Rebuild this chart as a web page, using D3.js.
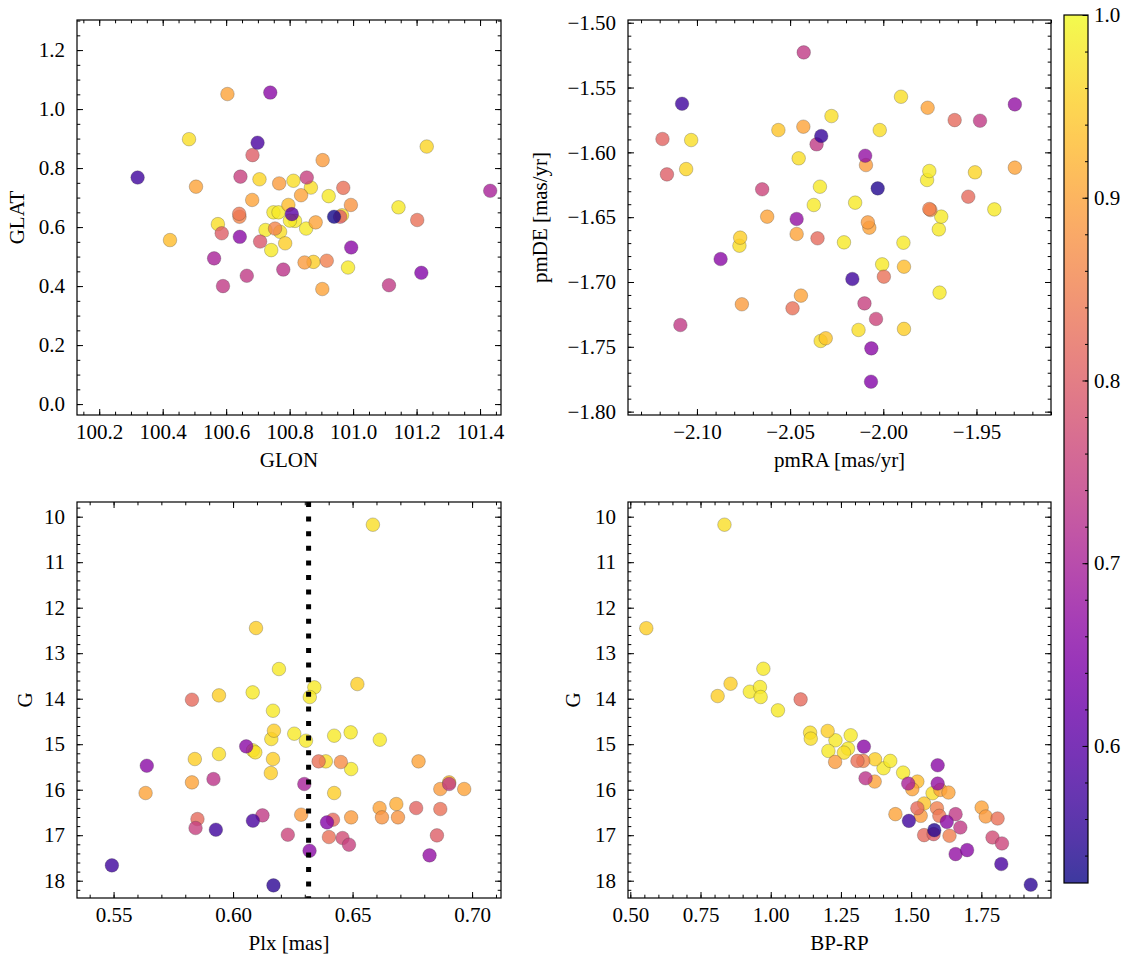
<!DOCTYPE html>
<html><head><meta charset="utf-8">
<script src="https://cdn.jsdelivr.net/npm/d3@7"></script>
<style>body{margin:0;background:#fff} svg text{font-family:"Liberation Serif","DejaVu Serif",serif !important;}</style>
</head><body><svg id="c" width="1133" height="965"></svg>
<script>
// ---- Panel 1: GLON / GLAT ----
const glon=[100.321,100.423,100.483,100.505,100.562,100.574,100.586,100.590,100.604,100.641,100.642,100.643,100.645,100.665,100.683,100.682,100.699,100.705,100.707,100.724,100.739,100.742,100.749,100.754,100.765,100.770,100.767,100.780,100.786,100.796,100.807,100.812,100.817,100.801,100.836,100.847,100.852,100.854,100.867,100.875,100.882,100.903,100.904,100.917,100.923,100.959,100.965,100.940,100.969,100.984,100.993,100.994,101.113,101.143,101.202,101.215,101.232,101.432];
const glat=[0.768,0.556,0.898,0.737,0.494,0.610,0.579,0.400,1.051,0.645,0.635,0.567,0.771,0.435,0.844,0.692,0.886,0.762,0.551,0.590,1.056,0.522,0.650,0.595,0.650,0.584,0.748,0.456,0.545,0.675,0.644,0.757,0.621,0.622,0.708,0.480,0.595,0.768,0.734,0.482,0.616,0.390,0.827,0.486,0.705,0.635,0.640,0.635,0.733,0.463,0.675,0.531,0.403,0.667,0.624,0.445,0.873,0.723];
const probA=[0.57,0.93,0.97,0.90,0.70,0.97,0.80,0.74,0.90,0.84,0.86,0.66,0.75,0.74,0.80,0.90,0.58,0.96,0.79,0.98,0.66,0.98,0.98,0.86,0.98,0.97,0.89,0.73,0.95,0.93,0.60,0.97,0.98,0.98,0.90,0.89,0.98,0.75,0.97,0.95,0.90,0.90,0.89,0.85,0.98,0.80,0.97,0.53,0.83,0.98,0.88,0.66,0.74,0.98,0.83,0.65,0.96,0.70];

// ---- Panel 2: pmRA / pmDE ----
const pmra=[-2.0427,-2.108,-2.1185,-2.1031,-2.1161,-2.1058,-2.1089,-2.0873,-2.0768,-2.0772,-2.0759,-2.065,-2.0623,-2.0563,-2.0487,-2.0465,-2.0465,-2.0454,-2.0442,-2.0429,-2.0373,-2.0358,-2.0353,-2.034,-2.0333,-2.0336,-2.0309,-2.0278,-2.0211,-2.0166,-2.0151,-2.0133,-2.0101,-2.0097,-2.0093,-2.0083,-2.0075,-2.0064,-2.0066,-2.0039,-2.003,-2.0019,-2.0006,-1.9997,-1.9905,-1.9892,-1.9889,-1.9889,-1.9762,-1.9765,-1.9753,-1.9753,-1.9747,-1.9702,-1.9689,-1.9698,-1.9617,-1.9544,-1.9508,-1.9481,-1.9404,-1.9294,-1.9294];
const pmde=[-1.5229,-1.5625,-1.5897,-1.5905,-1.617,-1.6129,-1.7332,-1.6823,-1.6658,-1.672,-1.7172,-1.6285,-1.6496,-1.5828,-1.7203,-1.663,-1.6514,-1.6046,-1.7105,-1.5802,-1.6406,-1.5938,-1.6663,-1.6265,-1.5874,-1.7455,-1.7434,-1.572,-1.6694,-1.6977,-1.6388,-1.737,-1.7165,-1.6026,-1.6098,-1.654,-1.6581,-1.7512,-1.7769,-1.7285,-1.6278,-1.5828,-1.6864,-1.6959,-1.5571,-1.6697,-1.6882,-1.7362,-1.5656,-1.6213,-1.6144,-1.6437,-1.6445,-1.6594,-1.6496,-1.7082,-1.5751,-1.6342,-1.6154,-1.5756,-1.644,-1.563,-1.6118];
const probB=[0.74,0.57,0.81,0.97,0.80,0.96,0.74,0.66,0.95,0.97,0.89,0.76,0.90,0.94,0.83,0.90,0.67,0.97,0.90,0.90,0.98,0.74,0.82,0.98,0.56,0.97,0.94,0.97,0.98,0.57,0.98,0.97,0.75,0.67,0.89,0.89,0.90,0.66,0.65,0.76,0.54,0.97,0.98,0.83,0.97,0.98,0.93,0.95,0.90,0.98,0.98,0.85,0.87,0.98,0.98,0.98,0.82,0.82,0.96,0.74,0.98,0.67,0.90];

// ---- Panel 3: Plx / G ----
const plx=[0.6585,0.6096,0.6192,0.634,0.652,0.5828,0.5941,0.6082,0.6321,0.6167,0.6171,0.616,0.6256,0.6305,0.6423,0.6492,0.6614,0.6055,0.6083,0.6093,0.5639,0.584,0.5941,0.6167,0.6158,0.6358,0.6388,0.6451,0.6494,0.6776,0.5918,0.5828,0.5634,0.6298,0.6423,0.6867,0.6904,0.6904,0.6967,0.6613,0.6683,0.6623,0.669,0.6766,0.6867,0.5851,0.5843,0.5928,0.6083,0.6123,0.6285,0.6393,0.6418,0.6494,0.6229,0.6401,0.6458,0.6485,0.6853,0.632,0.6822,0.5493,0.6169];
const gPlx=[10.176,12.447,13.348,13.751,13.678,14.022,13.927,13.861,13.963,14.264,14.703,14.886,14.769,14.923,14.813,14.74,14.901,15.048,15.136,15.179,15.473,15.326,15.216,15.326,15.634,15.377,15.377,15.392,15.546,15.377,15.766,15.839,16.073,15.875,16.073,15.985,15.839,15.875,15.985,16.403,16.315,16.608,16.608,16.403,16.425,16.645,16.842,16.879,16.681,16.564,16.549,16.718,16.659,16.608,16.989,17.04,17.062,17.209,17.004,17.341,17.443,17.663,18.103];
const probC=[0.97,0.95,0.98,0.98,0.95,0.82,0.95,0.98,0.98,0.98,0.95,0.97,0.98,0.98,0.98,0.98,0.98,0.66,0.98,0.97,0.66,0.95,0.97,0.95,0.95,0.83,0.97,0.87,0.98,0.90,0.73,0.90,0.90,0.70,0.95,0.89,0.93,0.74,0.90,0.90,0.91,0.88,0.88,0.81,0.83,0.82,0.75,0.57,0.58,0.74,0.89,0.65,0.82,0.89,0.76,0.83,0.77,0.75,0.80,0.66,0.67,0.57,0.55];
const plxCut=0.6316;

// ---- Panel 4: BP-RP / G ----
const bprp=[0.8353,0.5569,0.9738,0.857,0.811,0.9256,0.9618,0.9642,1.0257,1.1064,1.1402,1.1426,1.2028,1.2305,1.2848,1.2053,1.2607,1.2752,1.2293,1.3317,1.3088,1.3293,1.3715,1.4016,1.4257,1.3377,1.3702,1.4715,1.4896,1.5221,1.504,1.5944,1.5944,1.5763,1.6041,1.633,1.5462,1.5221,1.5341,1.444,1.592,1.6004,1.492,1.6269,1.6583,1.6751,1.5824,1.5462,1.58,1.6366,1.7511,1.7656,1.8078,1.7897,1.8234,1.6583,1.6993,1.821,1.9259];
const gCol=[10.176,12.45,13.342,13.671,13.942,13.846,13.744,13.963,14.256,14.015,14.746,14.878,14.709,14.914,14.804,15.148,15.185,15.097,15.389,15.053,15.367,15.367,15.331,15.528,15.367,15.748,15.821,15.624,15.865,15.821,15.989,15.463,15.865,16.077,16.004,16.062,16.303,16.406,16.574,16.537,16.406,16.574,16.684,16.706,16.537,16.83,16.889,16.998,16.976,17.013,16.391,16.589,16.633,17.049,17.181,17.415,17.327,17.634,18.088];
const probD=[0.97,0.95,0.98,0.95,0.95,0.98,0.98,0.98,0.98,0.82,0.97,0.97,0.95,0.98,0.98,0.98,0.97,0.98,0.89,0.66,0.83,0.86,0.95,0.98,0.98,0.73,0.90,0.98,0.70,0.93,0.90,0.66,0.67,0.97,0.90,0.90,0.94,0.82,0.89,0.90,0.85,0.84,0.57,0.66,0.74,0.74,0.54,0.82,0.80,0.85,0.90,0.89,0.83,0.77,0.76,0.67,0.66,0.58,0.55];

// ---- tick definitions ----
const ticksGlon=[100.2,100.4,100.6,100.8,101.0,101.2,101.4];
const ticksGlat=[0.0,0.2,0.4,0.6,0.8,1.0,1.2];
const ticksPmra=[-2.10,-2.05,-2.00,-1.95];
const ticksPmde=[-1.80,-1.75,-1.70,-1.65,-1.60,-1.55,-1.50];
const ticksPlx=[0.55,0.60,0.65,0.70];
const ticksG=[10,11,12,13,14,15,16,17,18];
const ticksBprp=[0.50,0.75,1.00,1.25,1.50,1.75];
const ticksCbar=[0.6,0.7,0.8,0.9,1.0];

const FONT='"Liberation Serif","DejaVu Serif",serif';
const FS=21;
const vmin=0.525, vmax=1.0;
const color=d3.scaleSequential(d3.interpolatePlasma).domain([vmin,vmax]);
const svg=d3.select('#c').style('font-family',FONT);

function range(a,b,step){const r=[];for(let v=a;v<=b+1e-9;v+=step)r.push(+v.toFixed(6));return r;}

function panel(o){
  const g=svg.append('g');
  const x=d3.scaleLinear().domain(o.xd).range([o.x0,o.x1]);
  const y=d3.scaleLinear().domain(o.yd).range([o.y1,o.y0]);
  const clipId='clip'+o.id;
  svg.append('clipPath').attr('id',clipId).append('rect')
    .attr('x',o.x0).attr('y',o.y0).attr('width',o.x1-o.x0).attr('height',o.y1-o.y0);
  const inX=v=>v>=Math.min(...o.xd)-1e-9&&v<=Math.max(...o.xd)+1e-9;
  const inY=v=>v>=Math.min(...o.yd)-1e-9&&v<=Math.max(...o.yd)+1e-9;
  const xMin=range(o.xMinor[0],o.xMinor[1],o.xMinor[2]).filter(inX);
  const yMin=range(o.yMinor[0],o.yMinor[1],o.yMinor[2]).filter(inY);
  function ax(gen,scale,vals,size,fmt,pad,tr){
    const a=gen(scale).tickValues(vals).tickSize(size).tickPadding(pad).tickFormat(fmt);
    const s=g.append('g').attr('transform',tr).call(a);
    s.attr('font-family',null).attr('font-size',null);
    s.select('.domain').remove();
    s.selectAll('line').attr('stroke','#000').attr('stroke-width',1);
    s.selectAll('text').style('font-size',FS+'px').style('font-family',FONT).attr('fill','#000');
    return s;
  }
  const none=()=> '';
  ax(d3.axisBottom,x,xMin,-3.3,none,0,`translate(0,${o.y1})`);
  ax(d3.axisBottom,x,o.xt,-6,d3.format(o.xf),9,`translate(0,${o.y1})`);
  ax(d3.axisTop,x,xMin,-3.3,none,0,`translate(0,${o.y0})`);
  ax(d3.axisTop,x,o.xt,-6,none,0,`translate(0,${o.y0})`);
  ax(d3.axisLeft,y,yMin,-3.3,none,0,`translate(${o.x0},0)`);
  ax(d3.axisLeft,y,o.yt,-6,d3.format(o.yf),12,`translate(${o.x0},0)`);
  ax(d3.axisRight,y,yMin,-3.3,none,0,`translate(${o.x1},0)`);
  ax(d3.axisRight,y,o.yt,-6,none,0,`translate(${o.x1},0)`);

  const pts=o.xs.map((v,i)=>({x:v,y:o.ys[i],p:o.ps[i]})).sort((a,b)=>b.p-a.p);
  const pg=g.append('g').attr('clip-path',`url(#${clipId})`);
  pg.selectAll('circle').data(pts).join('circle')
    .attr('cx',d=>x(d.x)).attr('cy',d=>y(d.y)).attr('r',6.8)
    .attr('fill',d=>color(d.p)).attr('fill-opacity',0.8)
    .attr('stroke','#333').attr('stroke-opacity',0.45).attr('stroke-width',0.6);
  if(o.vline!==undefined){
    pg.append('line').attr('x1',x(o.vline)).attr('x2',x(o.vline))
      .attr('y1',o.y0).attr('y2',o.y1).attr('stroke','#000')
      .attr('stroke-width',5).attr('stroke-dasharray','5,9.6');
  }
  g.append('rect').attr('x',o.x0).attr('y',o.y0).attr('width',o.x1-o.x0).attr('height',o.y1-o.y0)
    .attr('fill','none').attr('stroke','#000').attr('stroke-width',1.2);
  g.append('text').attr('x',(o.x0+o.x1)/2).attr('y',o.y1+51.5).attr('text-anchor','middle')
    .style('font-size',FS+'px').text(o.xl);
  g.append('text').attr('transform',`translate(${o.ylx},${(o.y0+o.y1)/2}) rotate(-90)`)
    .attr('text-anchor','middle').style('font-size',FS+'px').text(o.yl);
}

panel({id:1,x0:77,x1:501,y0:20,y1:415,xd:[100.13,101.466],yd:[-0.037,1.302],
  xt:ticksGlon,yt:ticksGlat,xMinor:[100.0,101.5,0.05],yMinor:[-0.05,1.35,0.05],xf:'.1f',yf:'.1f',
  xl:'GLON',yl:'GLAT',ylx:24,xs:glon,ys:glat,ps:probA});
panel({id:2,x0:628,x1:1051,y0:20,y1:415,xd:[-2.137,-1.910],yd:[-1.8026,-1.4979],
  xt:ticksPmra,yt:ticksPmde,xMinor:[-2.15,-1.90,0.01],yMinor:[-1.81,-1.49,0.01],xf:'.2f',yf:'.2f',
  xl:'pmRA [mas/yr]',yl:'pmDE [mas/yr]',ylx:547,xs:pmra,ys:pmde,ps:probB});
panel({id:3,x0:77,x1:501,y0:502,y1:898,xd:[0.5347,0.7121],yd:[18.38,9.677],
  xt:ticksPlx,yt:ticksG,xMinor:[0.53,0.72,0.01],yMinor:[9.6,18.4,0.2],xf:'.2f',yf:'d',
  xl:'Plx [mas]',yl:'G',ylx:32,xs:plx,ys:gPlx,ps:probC,vline:plxCut});
panel({id:4,x0:628,x1:1051,y0:502,y1:898,xd:[0.4918,1.998],yd:[18.38,9.677],
  xt:ticksBprp,yt:ticksG,xMinor:[0.45,2.0,0.05],yMinor:[9.6,18.4,0.2],xf:'.2f',yf:'d',
  xl:'BP-RP',yl:'G',ylx:580,xs:bprp,ys:gCol,ps:probD});

// ---- colorbar ----
const cb={x0:1064,x1:1088,y0:15,y1:883};
const cy=d3.scaleLinear().domain([vmin,vmax]).range([cb.y1,cb.y0]);
const defs=svg.append('defs');
const grad=defs.append('linearGradient').attr('id','cbg').attr('x1',0).attr('x2',0).attr('y1',1).attr('y2',0);
d3.range(0,1.0001,0.05).forEach(t=>grad.append('stop').attr('offset',t).attr('stop-color',color(vmin+t*(vmax-vmin))));
svg.append('rect').attr('x',cb.x0).attr('y',cb.y0).attr('width',cb.x1-cb.x0).attr('height',cb.y1-cb.y0)
  .attr('fill','url(#cbg)').attr('fill-opacity',0.8);
const cbMinor=range(0.54,1.0,0.02);
const cg=svg.append('g');
const ca1=d3.axisRight(cy).tickValues(cbMinor).tickSize(-3).tickFormat(()=>'');
const ca2=d3.axisRight(cy).tickValues(ticksCbar).tickSize(-5.5).tickPadding(6).tickFormat(d3.format('.1f'));
[ca1,ca2].forEach(a=>{
  const s=cg.append('g').attr('transform',`translate(${cb.x1},0)`).call(a);
  s.attr('font-family',null).attr('font-size',null);
  s.select('.domain').remove();
  s.selectAll('line').attr('stroke','#000');
  s.selectAll('text').style('font-size',FS+'px').style('font-family',FONT).attr('fill','#000');
});
svg.append('rect').attr('x',cb.x0).attr('y',cb.y0).attr('width',cb.x1-cb.x0).attr('height',cb.y1-cb.y0)
  .attr('fill','none').attr('stroke','#000').attr('stroke-width',1.2);
</script></body></html>
